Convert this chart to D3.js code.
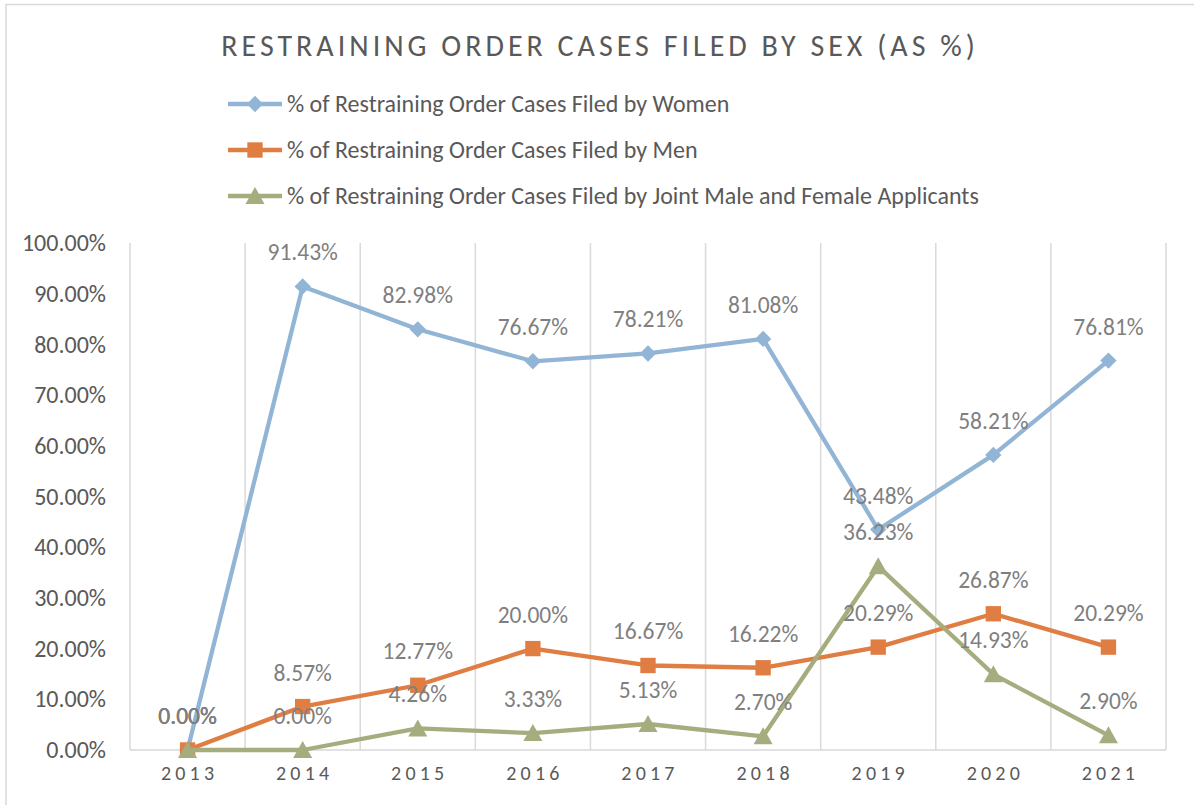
<!DOCTYPE html>
<html>
<head>
<meta charset="utf-8">
<script src="https://cdn.jsdelivr.net/npm/d3@7"></script>
<style>
    body { margin: 0; background: #ffffff; }
    svg text { font-family: Calibri, Carlito, "Liberation Sans", "Open Sans", sans-serif; }
</style>
</head>
<body>
<div id="chart"></div>
<script>
// chart data
let years = ["2013", "2014", "2015", "2016", "2017", "2018", "2019", "2020", "2021"];
let women = [0, 91.43, 82.98, 76.67, 78.21, 81.08, 43.48, 58.21, 76.81];
let men = [0, 8.57, 12.77, 20.00, 16.67, 16.22, 20.29, 26.87, 20.29];
let joint = [0, 0, 4.26, 3.33, 5.13, 2.70, 36.23, 14.93, 2.90];
let yTicks = [0, 10, 20, 30, 40, 50, 60, 70, 80, 90, 100];

let seriesNames = [
    "% of Restraining Order Cases Filed by Women",
    "% of Restraining Order Cases Filed by Men",
    "% of Restraining Order Cases Filed by Joint Male and Female Applicants"
];

let series = [
    {name: seriesNames[0], values: women, color: "#92b5d6", marker: "diamond"},
    {name: seriesNames[1], values: men, color: "#e07d42", marker: "square"},
    {name: seriesNames[2], values: joint, color: "#a5ad7f", marker: "triangle"}
];

let width = 1194;
let height = 805;
let margin = {top: 243, right: 28, bottom: 55, left: 130};

let svg = d3.select("#chart")
    .append("svg")
    .attr("width", width)
    .attr("height", height);

// outer chart border (only top and left are visible in the picture)
svg.append("rect")
    .attr("x", 6)
    .attr("y", 4.5)
    .attr("width", width + 20)
    .attr("height", height + 20)
    .attr("fill", "none")
    .attr("stroke", "#d9d9d9")
    .attr("stroke-width", 1.5);

let x = d3.scaleBand()
    .domain(years)
    .range([margin.left, width - margin.right]);

let y = d3.scaleLinear()
    .domain([0, 100])
    .range([height - margin.bottom, margin.top]);

// title
svg.append("text")
    .attr("x", 600)
    .attr("y", 56)
    .attr("text-anchor", "middle")
    .style("font-size", "30px")
    .style("letter-spacing", "4px")
    .style("fill", "#595959")
    .text("RESTRAINING ORDER CASES FILED BY SEX (AS %)");

// vertical gridlines at category edges
let edges = years.map(d => x(d)).concat([x.range()[1]]);
svg.append("g")
    .selectAll("line")
    .data(edges)
    .join("line")
    .attr("x1", d => d)
    .attr("x2", d => d)
    .attr("y1", y(100))
    .attr("y2", y(0))
    .attr("stroke", "#d9d9d9")
    .attr("stroke-width", 1.5);

// x axis line
svg.append("line")
    .attr("x1", x.range()[0])
    .attr("x2", x.range()[1])
    .attr("y1", y(0))
    .attr("y2", y(0))
    .attr("stroke", "#d9d9d9")
    .attr("stroke-width", 1.5);

// y axis labels
let yAxis = svg.append("g")
    .attr("transform", `translate(${margin.left}, 0)`)
    .call(d3.axisLeft(y).tickValues(yTicks).tickSize(0).tickPadding(24)
        .tickFormat(d => d.toFixed(2) + "%"));
yAxis.select(".domain").remove();
yAxis.selectAll("text")
    .style("font-size", "24px")
    .style("fill", "#595959");

// x axis labels
let xAxis = svg.append("g")
    .attr("transform", `translate(0, ${y(0)})`)
    .call(d3.axisBottom(x).tickSize(0).tickPadding(16));
xAxis.select(".domain").remove();
xAxis.selectAll("text")
    .attr("dx", "2px")
    .style("font-size", "20px")
    .style("letter-spacing", "4.2px")
    .style("fill", "#595959");

function markerPath(type) {
    if (type === "diamond") {
        return d3.symbol().type(d3.symbolDiamond2).size(170)();
    }
    if (type === "square") {
        return d3.symbol().type(d3.symbolSquare2).size(300)();
    }
    return "M0,-9L9.5,8L-9.5,8Z";
}

let line = d3.line()
    .x((d, i) => x(years[i]) + x.bandwidth() / 2)
    .y(d => y(d));

// lines and markers
series.forEach(s => {
    let g = svg.append("g");
    g.append("path")
        .datum(s.values)
        .attr("d", line)
        .attr("fill", "none")
        .attr("stroke", s.color)
        .attr("stroke-width", 4.3)
        .attr("stroke-linejoin", "round");

    g.selectAll("path.marker")
        .data(s.values)
        .join("path")
        .attr("class", "marker")
        .attr("d", markerPath(s.marker))
        .attr("transform", (d, i) => `translate(${x(years[i]) + x.bandwidth() / 2}, ${y(d)})`)
        .attr("fill", s.color);
});

// data labels on top of everything
series.forEach(s => {
    svg.append("g")
        .selectAll("text")
        .data(s.values)
        .join("text")
        .attr("x", (d, i) => x(years[i]) + x.bandwidth() / 2)
        .attr("y", d => y(d) - 26)
        .attr("text-anchor", "middle")
        .style("font-size", "23.5px")
        .style("fill", "#7f7f7f")
        .text(d => d.toFixed(2) + "%");
});

// legend
let legend = svg.append("g")
    .selectAll("g")
    .data(series)
    .join("g")
    .attr("transform", (d, i) => `translate(228, ${104 + i * 46})`);

legend.append("line")
    .attr("x1", 0)
    .attr("x2", 54)
    .attr("stroke", d => d.color)
    .attr("stroke-width", 4.3);

legend.append("path")
    .attr("d", d => markerPath(d.marker))
    .attr("transform", "translate(27, 0)")
    .attr("fill", d => d.color);

legend.append("text")
    .attr("x", 59)
    .attr("y", 8)
    .style("font-size", "24px")
    .style("fill", "#595959")
    .text(d => d.name);
</script>
</body>
</html>
